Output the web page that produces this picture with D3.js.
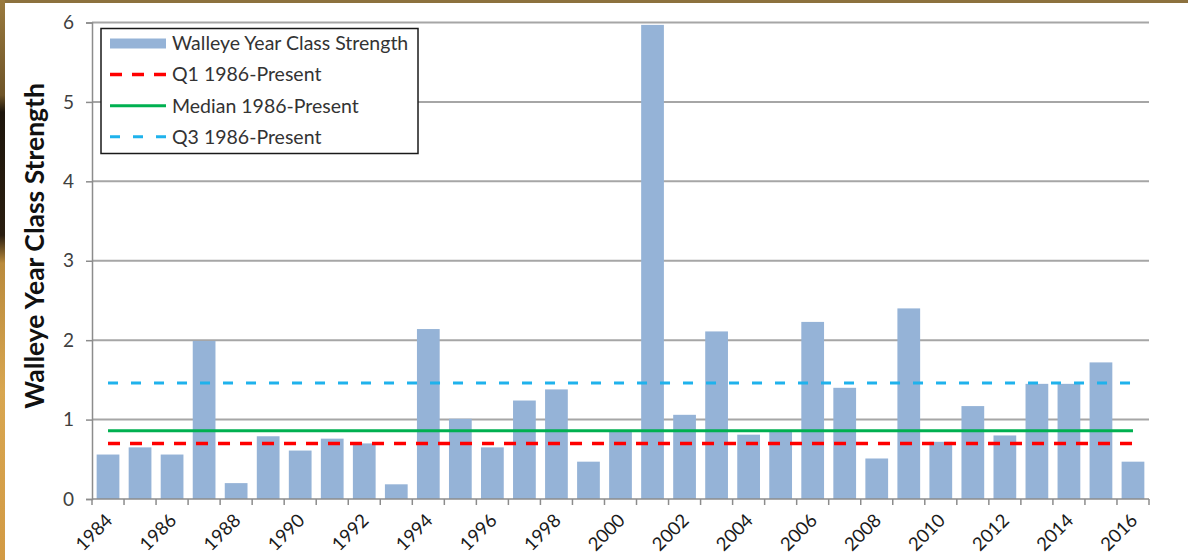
<!DOCTYPE html>
<html>
<head>
<meta charset="utf-8">
<script src="https://cdn.jsdelivr.net/npm/d3@7"></script>
<style>
  html, body { margin: 0; padding: 0; background: #ffffff; }
  svg { display: block; }
  text { font-family: Lato, "Open Sans", sans-serif; }
</style>
</head>
<body>
<svg id="chart" width="1188" height="560"></svg>
<script>
// Walleye year class strength by year
const years = [1984, 1985, 1986, 1987, 1988, 1989, 1990, 1991, 1992, 1993, 1994,
  1995, 1996, 1997, 1998, 1999, 2000, 2001, 2002, 2003, 2004, 2005,
  2006, 2007, 2008, 2009, 2010, 2011, 2012, 2013, 2014, 2015, 2016];
const strength = [0.56, 0.65, 0.56, 1.99, 0.20, 0.79, 0.61, 0.76, 0.70, 0.185, 2.14,
  1.01, 0.65, 1.24, 1.38, 0.47, 0.85, 5.97, 1.06, 2.11, 0.81, 0.86,
  2.23, 1.40, 0.51, 2.40, 0.72, 1.17, 0.80, 1.45, 1.45, 1.72, 0.47];

// Reference levels for 1986-present
const q1 = 0.70;
const median = 0.86;
const q3 = 1.46;

const yTicks = [0, 1, 2, 3, 4, 5, 6];
const xLabelYears = years.filter(y => y % 2 === 0);

const legendItems = [
  { label: "Walleye Year Class Strength", type: "bar" },
  { label: "Q1 1986-Present", type: "q1" },
  { label: "Median 1986-Present", type: "median" },
  { label: "Q3 1986-Present", type: "q3" }
];

const colors = {
  bar: "#95b3d7",
  q1: "#ff0000",
  median: "#00b050",
  q3: "#1fb2ec",
  grid: "#a6a6a6",
  axis: "#8c8c8c"
};
const lineStyle = {
  q1: { width: 3.5, dash: "12,10" },
  median: { width: 3, dash: null },
  q3: { width: 3, dash: "10,13" }
};

const svg = d3.select("#chart");
const W = 1188, H = 560;

// frame around the slide
const defs = svg.append("defs");
const lg = defs.append("linearGradient").attr("id", "leftFrame")
  .attr("x1", 0).attr("y1", 0).attr("x2", 0).attr("y2", 1);
[[0, "#9a7a3e"], [0.17, "#6e5428"], [0.2, "#1e160c"], [0.42, "#2a1e10"], [0.47, "#b98a3c"], [0.7, "#d8a650"], [1, "#d29a44"]]
  .forEach(([o, c]) => lg.append("stop").attr("offset", o).attr("stop-color", c));
svg.append("rect").attr("x", 0).attr("y", 0).attr("width", W).attr("height", H).attr("fill", "#ffffff");
svg.append("rect").attr("x", 0).attr("y", 0).attr("width", W).attr("height", 3).attr("fill", "#8c713e");
svg.append("rect").attr("x", 0).attr("y", 0).attr("width", 5).attr("height", H).attr("fill", "url(#leftFrame)");

const plot = { left: 92, right: 1149, top: 22.5, bottom: 499 };

const x = d3.scaleBand()
  .domain(years)
  .range([plot.left, plot.right])
  .paddingInner(0.29)
  .paddingOuter(0.145);

const y = d3.scaleLinear()
  .domain([0, 6])
  .range([plot.bottom, plot.top]);

// horizontal gridlines
svg.append("g")
  .selectAll("line")
  .data(yTicks.filter(d => d > 0))
  .join("line")
  .attr("x1", plot.left).attr("x2", plot.right)
  .attr("y1", d => y(d)).attr("y2", d => y(d))
  .attr("stroke", colors.grid)
  .attr("stroke-width", 2);

// y axis
const yAxis = svg.append("g")
  .attr("transform", `translate(${plot.left},0)`)
  .call(d3.axisLeft(y).tickValues(yTicks).tickSize(6).tickPadding(12).tickFormat(d3.format("d")));
yAxis.select(".domain").attr("stroke", colors.axis).attr("stroke-width", 1.5);
yAxis.selectAll(".tick line").attr("stroke", colors.axis).attr("stroke-width", 1.5);
yAxis.selectAll(".tick text")
  .attr("font-family", "Lato, 'Open Sans', sans-serif")
  .attr("font-size", 19)
  .attr("fill", "#404040");

// bars
svg.append("g")
  .selectAll("rect")
  .data(years.map((yr, i) => ({ yr, v: strength[i] })))
  .join("rect")
  .attr("x", d => x(d.yr))
  .attr("width", x.bandwidth())
  .attr("y", d => y(d.v))
  .attr("height", d => y(0) - y(d.v))
  .attr("fill", colors.bar);

// x axis line with ticks on category boundaries
const step = x.step();
const gap = step * x.paddingInner();
const boundaries = years.map(yr => x(yr) - gap / 2).concat([x(years[years.length - 1]) + x.bandwidth() + gap / 2]);
const xg = svg.append("g");
xg.append("line")
  .attr("x1", plot.left).attr("x2", plot.right)
  .attr("y1", y(0)).attr("y2", y(0))
  .attr("stroke", colors.axis).attr("stroke-width", 1.5);
xg.selectAll("line.tick")
  .data(boundaries)
  .join("line")
  .attr("class", "tick")
  .attr("x1", d => d).attr("x2", d => d)
  .attr("y1", y(0)).attr("y2", y(0) + 6)
  .attr("stroke", colors.axis).attr("stroke-width", 1.5);

// year labels, rotated
xg.selectAll("text")
  .data(xLabelYears)
  .join("text")
  .attr("transform", d => `translate(${x(d) + x.bandwidth() / 2 + 1},${y(0) + 18}) rotate(-45)`)
  .attr("text-anchor", "end")
  .attr("dy", "0.35em")
  .attr("font-size", 18.5)
  .attr("fill", "#1a1a1a")
  .text(d => d);

// reference lines from first to last category centre
const xStart = x(years[0]) + x.bandwidth() / 2;
const xEnd = x(years[years.length - 1]) + x.bandwidth() / 2;
[["q1", q1], ["median", median], ["q3", q3]].forEach(([key, val]) => {
  svg.append("line")
    .attr("x1", xStart).attr("x2", xEnd)
    .attr("y1", y(val)).attr("y2", y(val))
    .attr("stroke", colors[key])
    .attr("stroke-width", lineStyle[key].width)
    .attr("stroke-dasharray", lineStyle[key].dash);
});

// y axis title
svg.append("text")
  .attr("transform", `translate(44,246) rotate(-90)`)
  .attr("text-anchor", "middle")
  .attr("font-size", 26.5)
  .attr("font-weight", "bold")
  .attr("fill", "#111")
  .text("Walleye Year Class Strength");

// legend
const legend = svg.append("g").attr("transform", "translate(101,28.5)");
legend.append("rect")
  .attr("width", 317).attr("height", 125)
  .attr("fill", "#ffffff")
  .attr("stroke", "#1a1a1a")
  .attr("stroke-width", 1.5);
const rows = legend.selectAll("g.row")
  .data(legendItems)
  .join("g")
  .attr("class", "row")
  .attr("transform", (d, i) => `translate(9,${15 + i * 31.1})`);
rows.each(function (d) {
  const g = d3.select(this);
  if (d.type === "bar") {
    g.append("rect").attr("x", 0).attr("y", -5).attr("width", 56).attr("height", 10).attr("fill", colors.bar);
  } else {
    g.append("line")
      .attr("x1", 0).attr("x2", 56).attr("y1", 0).attr("y2", 0)
      .attr("stroke", colors[d.type])
      .attr("stroke-width", lineStyle[d.type].width)
      .attr("stroke-dasharray", lineStyle[d.type].dash);
  }
  g.append("text")
    .attr("x", 62)
    .attr("dy", "0.35em")
    .attr("font-size", 19.5)
    .attr("fill", "#333")
    .text(d.label);
});
</script>
</body>
</html>
